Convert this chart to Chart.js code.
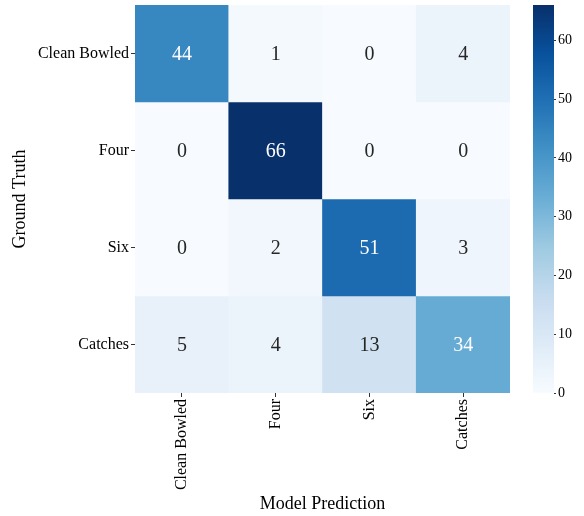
<!DOCTYPE html>
<html>
<head>
<meta charset="utf-8">
<script src="https://cdn.jsdelivr.net/npm/chart.js@4/dist/chart.umd.min.js"></script>
<style>
  html, body { margin: 0; padding: 0; background: #ffffff; }
  #wrap { position: relative; width: 584px; height: 516px; }
  #main { position: absolute; left: 0; top: 0; }
  #cbar { position: absolute; left: 520px; top: 0; }
</style>
</head>
<body>
<div id="wrap">
  <canvas id="main" width="584" height="516"></canvas>
  <canvas id="cbar" width="64" height="516"></canvas>
</div>
<script>
// ---- data ----
const rowLabels = ['Clean Bowled', 'Four', 'Six', 'Catches'];   // Ground Truth
const colLabels = ['Clean Bowled', 'Four', 'Six', 'Catches'];   // Model Prediction
const rowCleanBowled = [44, 1, 0, 4];
const rowFour        = [0, 66, 0, 0];
const rowSix         = [0, 2, 51, 3];
const rowCatches     = [5, 4, 13, 34];
const matrixRows = [rowCleanBowled, rowFour, rowSix, rowCatches];
const colorbarTicks = [0, 10, 20, 30, 40, 50, 60];
const xTitle = 'Model Prediction';
const yTitle = 'Ground Truth';

// ---- colormap (matplotlib Blues) ----
const bluesStops = [
  [247,251,255],[222,235,247],[198,219,239],[158,202,225],[107,174,214],
  [66,146,198],[33,113,181],[8,81,156],[8,48,107]
];
const vmin = 0;
const vmax = Math.max(...matrixRows.flat());
function blues(t) {
  t = Math.min(1, Math.max(0, t));
  const n = bluesStops.length - 1;
  const p = t * n;
  const i = Math.min(n - 1, Math.floor(p));
  const f = p - i;
  const a = bluesStops[i], b = bluesStops[i + 1];
  return [0,1,2].map(k => Math.round(a[k] + (b[k] - a[k]) * f));
}
function rgbStr(c) { return `rgb(${c[0]},${c[1]},${c[2]})`; }
function colorFor(v) { return blues((v - vmin) / (vmax - vmin)); }
function textColorFor(v) {
  const c = colorFor(v).map(x => {
    x /= 255;
    return x <= 0.03928 ? x / 12.92 : Math.pow((x + 0.055) / 1.055, 2.4);
  });
  const lum = 0.2126 * c[0] + 0.7152 * c[1] + 0.0722 * c[2];
  return lum > 0.408 ? '#262626' : '#ffffff';
}

Chart.defaults.font.family = "'Liberation Serif', 'Times New Roman', serif";
Chart.defaults.color = '#000000';

// ---- heatmap datasets: one floating-bar dataset per ground-truth row ----
const datasets = matrixRows.map((vals, r) => ({
  label: rowLabels[r],
  data: vals.map(() => [r, r + 1]),
  values: vals,
  backgroundColor: vals.map(v => rgbStr(colorFor(v))),
  borderWidth: 0,
  grouped: false,
  barPercentage: 1,
  categoryPercentage: 1
}));

const annotate = {
  id: 'annotate',
  afterDatasetsDraw(chart) {
    const ctx = chart.ctx;
    ctx.save();
    ctx.font = "20px 'Liberation Serif', 'Times New Roman', serif";
    ctx.textAlign = 'center';
    ctx.textBaseline = 'middle';
    chart.data.datasets.forEach((ds, di) => {
      const meta = chart.getDatasetMeta(di);
      meta.data.forEach((el, i) => {
        const v = ds.values[i];
        ctx.fillStyle = textColorFor(v);
        ctx.fillText(String(v), el.x, (el.y + el.base) / 2 + 1);
      });
    });
    ctx.restore();
  }
};

new Chart(document.getElementById('main'), {
  type: 'bar',
  data: { labels: colLabels, datasets },
  options: {
    responsive: false,
    animation: false,
    layout: { padding: { left: 0, top: 5, right: 74, bottom: 0 } },
    plugins: { legend: { display: false }, tooltip: { enabled: false } },
    scales: {
      x: {
        type: 'category',
        offset: true,
        grid: { display: true, offset: false, drawOnChartArea: false, drawTicks: true, tickLength: 4, color: '#333333' },
        border: { display: false },
        ticks: { autoSkip: false, minRotation: 90, maxRotation: 90, padding: 2,
                 font: { size: 16 }, color: '#000000' },
        title: { display: true, text: xTitle, font: { size: 18 }, color: '#000000',
                 padding: { top: 0, bottom: 1 } },
        afterFit(s) { s.height = 123; s.paddingLeft = 0; s.paddingRight = 0; }
      },
      y: {
        type: 'linear',
        min: 0, max: rowLabels.length,
        reverse: true,
        afterBuildTicks(s) { s.ticks = rowLabels.map((_, i) => ({ value: i + 0.5 })); },
        grid: { display: true, drawOnChartArea: false, drawTicks: true, tickLength: 4, color: '#333333' },
        border: { display: false },
        ticks: { autoSkip: false, padding: 2, font: { size: 16 }, color: '#000000',
                 callback: (v) => rowLabels[Math.floor(v)] },
        title: { display: true, text: yTitle, font: { size: 18 }, color: '#000000',
                 padding: { top: 9, bottom: 0 } },
        afterFit(s) { s.width = 135; s.paddingTop = 0; s.paddingBottom = 0; }
      }
    }
  },
  plugins: [annotate]
});

// ---- colorbar ----
new Chart(document.getElementById('cbar'), {
  type: 'bar',
  data: {
    labels: [''],
    datasets: [{
      data: [[vmin, vmax]],
      borderWidth: 0,
      barPercentage: 1,
      categoryPercentage: 1,
      backgroundColor(c) {
        const area = c.chart.chartArea;
        if (!area) return rgbStr(colorFor(vmin));
        const g = c.chart.ctx.createLinearGradient(0, area.bottom, 0, area.top);
        bluesStops.forEach((s, i) => g.addColorStop(i / (bluesStops.length - 1), rgbStr(s)));
        return g;
      }
    }]
  },
  options: {
    responsive: false,
    animation: false,
    layout: { padding: { left: 13, top: 5, right: 0, bottom: 123 } },
    plugins: { legend: { display: false }, tooltip: { enabled: false } },
    scales: {
      x: { display: false },
      y: {
        position: 'right',
        min: vmin, max: vmax,
        afterBuildTicks(s) { s.ticks = colorbarTicks.map(v => ({ value: v })); },
        grid: { display: true, drawOnChartArea: false, drawTicks: true, tickLength: 2, color: '#333333' },
        border: { display: false },
        ticks: { padding: 2, font: { size: 14 }, color: '#000000' },
        afterFit(s) { s.width = 30; s.paddingTop = 0; s.paddingBottom = 0; }
      }
    }
  }
});
</script>
</body>
</html>
